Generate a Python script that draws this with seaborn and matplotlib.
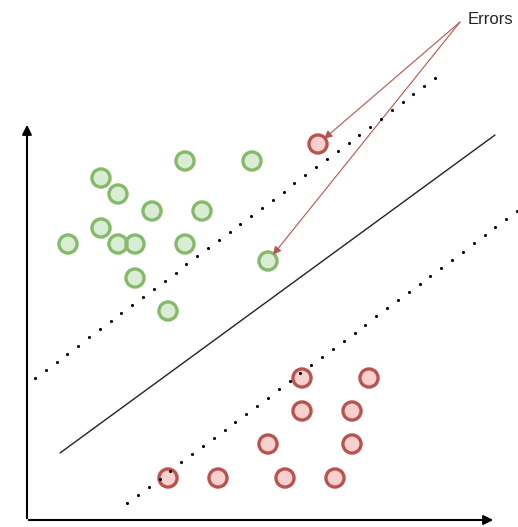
import numpy as np
import pandas as pd
import matplotlib.pyplot as plt
import seaborn as sns

# Diagram coordinates (x to the right, y downwards like the picture)
green_x = [185, 252, 101, 118, 152, 202, 101, 68, 118, 135, 185, 135, 168, 268]
green_y = [161, 161, 178, 194, 211, 211, 228, 244, 244, 244, 244, 278, 311, 261]
red_x = [318, 302, 369, 302, 352, 268, 352, 168, 218, 285, 335]
red_y = [144, 378, 378, 411, 411, 444, 444, 478, 478, 478, 478]

# separating line and the two margins (start, end)
line_x = [60, 495]
line_y = [453, 135]
upper_x = [35, 435]
upper_y = [378, 78]
lower_x = [127, 517]
lower_y = [503, 211]

# the two misclassified points
error_x = [318, 268]
error_y = [144, 261]

df = pd.DataFrame({
    "x": green_x + red_x,
    "y": green_y + red_y,
    "cls": ["green"] * len(green_x) + ["red"] * len(red_x),
})

sns.set_theme(style="white")
fig = plt.figure(figsize=(5.18, 5.27), dpi=100)
ax = fig.add_axes([0, 0, 1, 1])
ax.set_xlim(0, 518)
ax.set_ylim(527, 0)
ax.axis("off")

# axes arrows
ax.annotate("", xy=(27, 122), xytext=(27, 521),
            arrowprops=dict(arrowstyle="-|>", color="black", lw=1.5, mutation_scale=14))
ax.annotate("", xy=(496, 520), xytext=(26, 520),
            arrowprops=dict(arrowstyle="-|>", color="black", lw=1.5, mutation_scale=14))

# hyperplane
sns.lineplot(x=line_x, y=line_y, ax=ax, color="#222222", lw=1.0, sort=False)

# margins as dotted lines
for xs, ys in [(upper_x, upper_y), (lower_x, lower_y)]:
    n = int(np.hypot(xs[1] - xs[0], ys[1] - ys[0]) / 13.3) + 1
    px = np.linspace(xs[0], xs[1], n)
    py = np.linspace(ys[0], ys[1], n)
    ax.scatter(px, py, s=5, color="black", zorder=4, linewidths=0)

# points
sns.scatterplot(data=df, x="x", y="y", hue="cls",
                palette={"green": "#d8edd3", "red": "#f8d0ce"},
                s=170, legend=False, ax=ax, zorder=3, linewidth=0)
for cls, edge in [("green", "#86b96a"), ("red", "#b85450")]:
    sub = df[df["cls"] == cls]
    ax.scatter(sub["x"], sub["y"], s=170, facecolors="none",
               edgecolors=edge, linewidths=2.4, zorder=3)

# error annotations
for ex, ey in zip(error_x, error_y):
    dx, dy = 460 - ex, 22 - ey
    d = np.hypot(dx, dy)
    ax.annotate("", xy=(ex + dx / d * 8, ey + dy / d * 8), xytext=(460, 22),
                arrowprops=dict(arrowstyle="-|>", color="#b85450", lw=0.8,
                                mutation_scale=12, shrinkA=0, shrinkB=0))

ax.text(468, 19, "Errors", fontsize=12, color="#222222", ha="left", va="center",
        family="Liberation Sans")

fig.savefig("out.png", dpi=100)
